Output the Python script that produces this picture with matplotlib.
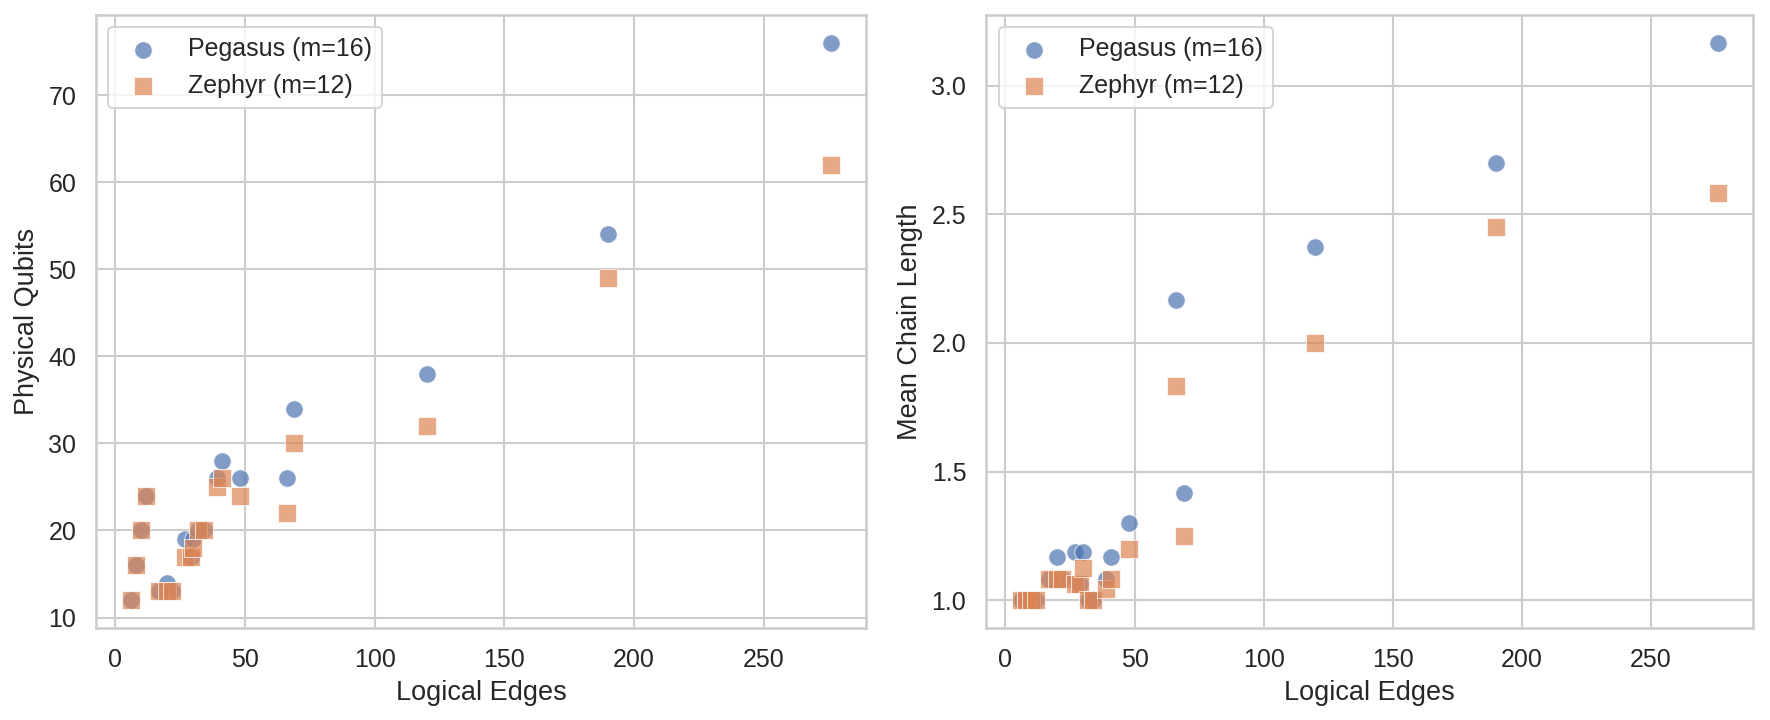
import numpy as np
import matplotlib
matplotlib.use("Agg")
import matplotlib.pyplot as plt
import seaborn as sns

# Logical edges of each problem instance
edges = [6, 8, 10, 12, 17, 20, 22, 27, 29, 30, 32, 34, 39, 41, 48, 66, 69, 120, 190, 276]

# Pegasus (m=16) embedding results
peg_qubits = [12, 16, 20, 24, 13, 14, 13, 19, 17, 19, 20, 20, 26, 28, 26, 26, 34, 38, 54, 76]
peg_chain = [1.0, 1.0, 1.0, 1.0, 1.083, 1.167, 1.083, 1.1875, 1.0625, 1.1875,
             1.0, 1.0, 1.083, 1.167, 1.3, 2.167, 1.417, 2.375, 2.7, 3.167]

# Zephyr (m=12) embedding results
zep_qubits = [12, 16, 20, 24, 13, 13, 13, 17, 17, 18, 20, 20, 25, 26, 24, 22, 30, 32, 49, 62]
zep_chain = [1.0, 1.0, 1.0, 1.0, 1.083, 1.083, 1.083, 1.0625, 1.0625, 1.125,
             1.0, 1.0, 1.042, 1.083, 1.2, 1.833, 1.25, 2.0, 2.45, 2.583]

sns.set_theme(style="whitegrid")
plt.rcParams['font.family'] = ['Liberation Sans', 'DejaVu Sans']

fig = plt.figure(figsize=(11.8, 4.8), dpi=150)
ax1 = fig.add_axes([0.0542, 0.1278, 0.4351, 0.8514])
ax2 = fig.add_axes([0.5571, 0.1278, 0.4333, 0.8514])

blue = '#4c72b0'
orange = '#dd8452'

for ax, py, zy, ylab in [(ax1, peg_qubits, zep_qubits, 'Physical Qubits'),
                         (ax2, peg_chain, zep_chain, 'Mean Chain Length')]:
    ax.scatter(edges, py, s=70, marker='o', color=blue, alpha=0.7,
               edgecolors='white', linewidths=0.5, label='Pegasus (m=16)')
    ax.scatter(edges, zy, s=70, marker='s', color=orange, alpha=0.7,
               edgecolors='white', linewidths=0.5, label='Zephyr (m=12)')
    ax.set_xlabel('Logical Edges', fontsize=13)
    ax.set_ylabel(ylab, fontsize=13)
    ax.tick_params(labelsize=12)
    ax.legend(loc='upper left', fontsize=12)

ax1.set_yticks([10, 20, 30, 40, 50, 60, 70])
ax2.set_yticks([1.0, 1.5, 2.0, 2.5, 3.0])

fig.savefig('out.png', dpi=150)
